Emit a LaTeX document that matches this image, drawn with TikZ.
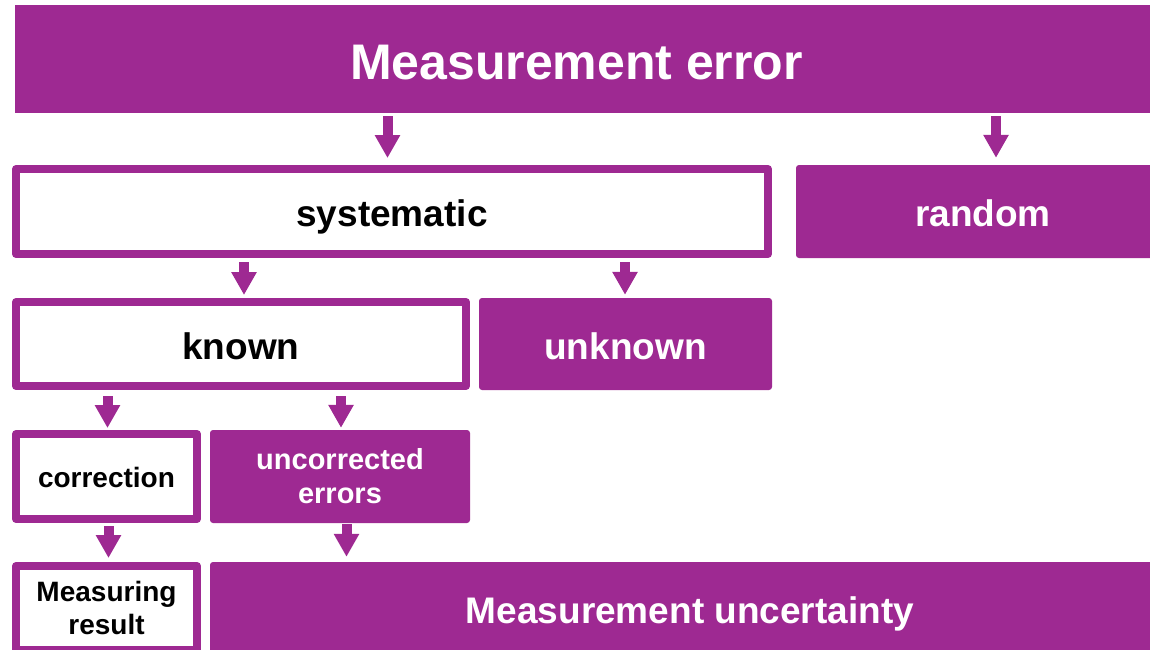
\documentclass[tikz,border=0pt]{standalone}
\usepackage{fontspec}
\setmainfont{Liberation Sans}
\usetikzlibrary{arrows.meta}
\definecolor{plum}{RGB}{158,41,146}
\begin{document}
\begin{tikzpicture}[x=1pt,y=-1pt,
  % solid purple box with white label
  fillbox/.style={fill=plum, rounded corners=3pt, inner sep=0pt, text=white,
    font=\bfseries\fontsize{37}{44}\selectfont, text height=30pt, text depth=0pt},
  % white box with a thick purple frame and black label
  framebox/.style={draw=plum, line width=8pt, line join=round, fill=white,
    inner sep=0pt, text=black,
    font=\bfseries\fontsize{37}{44}\selectfont, text height=30pt, text depth=0pt},
  small/.style={font=\bfseries\fontsize{28}{34}\selectfont, text height=22.7pt},
  twoline/.style={align=center, text height=, text depth=},
  arr/.style={draw=plum, line width=10pt, -{Triangle[width=24pt,length=23pt]}}
]
\useasboundingbox (0,0) rectangle (1150,649);
\clip (0,0) rectangle (1150,649);

% header banner
\node[fill=plum, inner sep=0pt, minimum width=1135pt, minimum height=108pt] (top) at (582.5,59) {};
\node[text=white, inner sep=0pt, font=\bfseries\fontsize{50}{60}\selectfont,
      text height=40.5pt, text depth=0pt] (toptext) at ([xshift=-6pt]top.center) {Measurement error};

% second row
\node[framebox, minimum width=752pt, minimum height=85pt] (sys) at (392,211.5) {systematic};
\node[fillbox, minimum width=374pt, minimum height=93pt] (rand) at (983,211.5) {random};

% third row
\node[framebox, minimum width=450pt, minimum height=84pt] (known) at (241,344) {known};
\node[fillbox, minimum width=293pt, minimum height=92pt] (unknown) at (625.5,344) {unknown};

% fourth row
\node[framebox, small, minimum width=181pt, minimum height=85pt] (corr) at (106.5,476.5) {correction};
\node[fillbox, small, twoline, font=\bfseries\fontsize{29}{34}\selectfont,
      minimum width=260pt, minimum height=93pt] (uncorr) at (340,476.5) {uncorrected\\errors};

% bottom row
\node[framebox, small, twoline, font=\bfseries\fontsize{28}{33}\selectfont,
      minimum width=181pt, minimum height=84pt] (result) at (106.5,608) {Measuring\\result};
\node[fillbox, minimum width=960pt, minimum height=92pt] (uncert) at (690,608) {Measurement uncertainty};

% arrow columns
\coordinate (c1) at (387.5,0);
\coordinate (c2) at (996,0);
\coordinate (c3) at (244,0);
\coordinate (c4) at (625,0);
\coordinate (c5) at (107.5,0);
\coordinate (c6) at (341,0);
\coordinate (c7) at (108.5,0);
\coordinate (c8) at (346.5,0);

% connectors
\draw[arr, shorten <=3pt, shorten >=7pt] (top.south -| c1) -- (sys.north -| c1);
\draw[arr, shorten <=3pt, shorten >=7pt] (top.south -| c2) -- (rand.north -| c2);
\draw[arr, shorten <=4pt, shorten >=3pt] (sys.south -| c3) -- (known.north -| c3);
\draw[arr, shorten <=4pt, shorten >=3pt] (sys.south -| c4) -- (unknown.north -| c4);
\draw[arr, shorten <=6pt, shorten >=2pt] (known.south -| c5) -- (corr.north -| c5);
\draw[arr, shorten <=6pt, shorten >=2pt] (known.south -| c6) -- (uncorr.north -| c6);
\draw[arr, shorten <=3pt, shorten >=4pt] (corr.south -| c7) -- (result.north -| c7);
\draw[arr, shorten <=1pt, shorten >=5pt] (uncorr.south -| c8) -- (uncert.north -| c8);
\end{tikzpicture}
\end{document}
